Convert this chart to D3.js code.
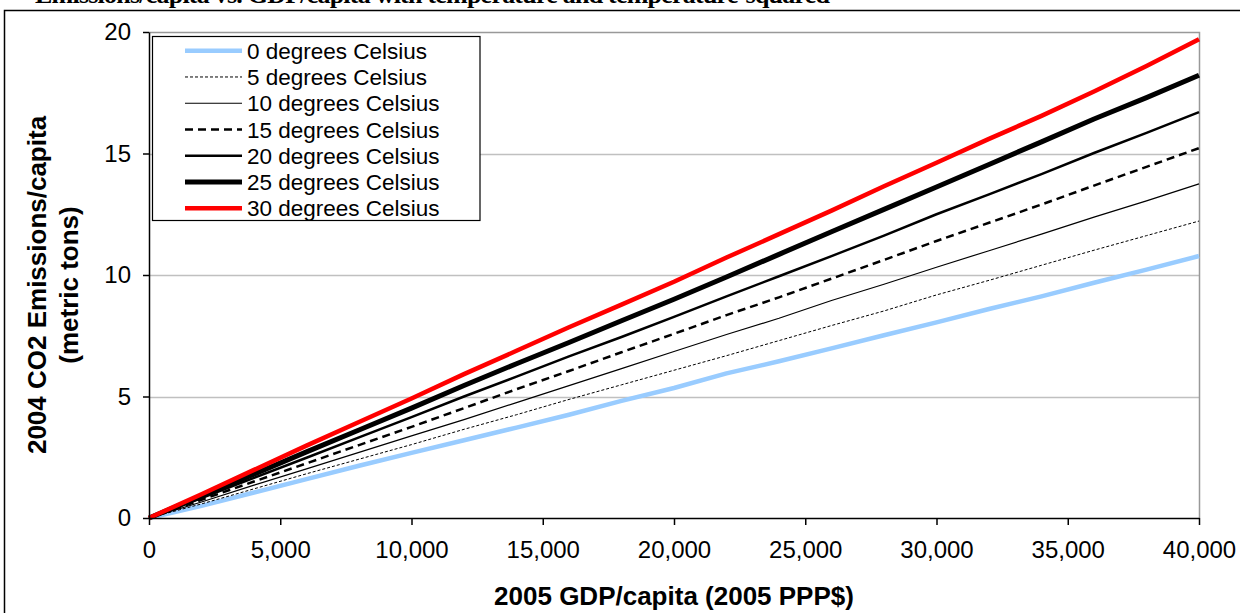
<!DOCTYPE html>
<html>
<head>
<meta charset="utf-8">
<script src="https://cdn.jsdelivr.net/npm/d3@7"></script>
<style>
  body { margin: 0; background: #fff; }
  svg { display: block; font-family: Arial, "Liberation Sans", sans-serif; }
</style>
</head>
<body>
<svg id="chart" width="1240" height="613"></svg>
<script>
// GDP/capita values (2005 PPP$)
const gdp = [0, 2000, 4000, 6000, 8000, 10000, 12000, 14000, 16000, 18000, 20000,
             22000, 24000, 26000, 28000, 30000, 32000, 34000, 36000, 38000, 40000];

// CO2 emissions/capita per temperature
const t0  = [0, 0.50, 1.05, 1.60, 2.15, 2.68, 3.20, 3.72, 4.25, 4.82, 5.35, 5.95, 6.45, 6.98, 7.52, 8.05, 8.60, 9.12, 9.68, 10.22, 10.78];
const t5  = [0, 0.58, 1.20, 1.82, 2.42, 3.02, 3.65, 4.25, 4.88, 5.48, 6.08, 6.68, 7.30, 7.92, 8.52, 9.18, 9.78, 10.40, 11.02, 11.62, 12.22];
const t10 = [0, 0.66, 1.35, 2.02, 2.70, 3.38, 4.05, 4.75, 5.45, 6.15, 6.85, 7.55, 8.22, 8.95, 9.62, 10.32, 11.00, 11.68, 12.38, 13.05, 13.75];
const t15 = [0, 0.75, 1.50, 2.25, 3.00, 3.75, 4.52, 5.30, 6.05, 6.82, 7.58, 8.35, 9.08, 9.85, 10.62, 11.40, 12.15, 12.90, 13.68, 14.45, 15.22];
const t20 = [0, 0.82, 1.65, 2.48, 3.32, 4.15, 5.00, 5.82, 6.65, 7.45, 8.28, 9.12, 9.95, 10.78, 11.62, 12.50, 13.32, 14.15, 15.02, 15.85, 16.70];
const t25 = [0, 0.90, 1.80, 2.72, 3.62, 4.52, 5.45, 6.35, 7.22, 8.12, 9.00, 9.92, 10.85, 11.78, 12.70, 13.62, 14.55, 15.48, 16.42, 17.30, 18.22];
const t30 = [0, 0.98, 1.98, 2.98, 3.95, 4.92, 5.92, 6.88, 7.85, 8.78, 9.72, 10.72, 11.68, 12.65, 13.65, 14.62, 15.60, 16.55, 17.55, 18.60, 19.70];

const seriesNames = ["0 degrees Celsius", "5 degrees Celsius", "10 degrees Celsius", "15 degrees Celsius",
                     "20 degrees Celsius", "25 degrees Celsius", "30 degrees Celsius"];
const xTicks = [0, 5000, 10000, 15000, 20000, 25000, 30000, 35000, 40000];
const yTicks = [0, 5, 10, 15, 20];

// line styles per series
const styles = [
  { color: "#99ccff", width: 4.5, dash: null },
  { color: "#000", width: 1, dash: "3,2" },
  { color: "#000", width: 1.2, dash: null },
  { color: "#000", width: 2.5, dash: "8,5" },
  { color: "#000", width: 2.5, dash: null },
  { color: "#000", width: 5, dash: null },
  { color: "#ff0000", width: 4.5, dash: null }
];

const series = [t0, t5, t10, t15, t20, t25, t30].map((vals, i) => ({
  name: seriesNames[i],
  style: styles[i],
  points: vals.map((v, j) => ({ x: gdp[j], y: v }))
}));

const svg = d3.select("#chart");

const plot = { left: 149, right: 1199, top: 32, bottom: 518 };
const x = d3.scaleLinear().domain([0, 40000]).range([plot.left, plot.right]);
const y = d3.scaleLinear().domain([0, 20]).range([plot.bottom, plot.top]);

// title, cropped at the top edge like in the original
svg.append("text")
  .attr("x", 35).attr("y", 3)
  .attr("textLength", 795).attr("lengthAdjust", "spacing")
  .style("font-family", "'Liberation Serif', 'Times New Roman', serif")
  .style("font-weight", "bold").style("font-size", "26px")
  .text("Emissions/capita vs. GDP/capita with temperature and temperature-squared");

// outer chart border
svg.append("rect")
  .attr("x", 4.5).attr("y", 10.5).attr("width", 1250).attr("height", 620)
  .attr("fill", "none").attr("stroke", "#000").attr("stroke-width", 1.5);

// gridlines
svg.append("g").selectAll("line")
  .data(yTicks.filter(d => d > 0 && d < 20))
  .enter().append("line")
  .attr("x1", plot.left).attr("x2", plot.right)
  .attr("y1", d => Math.round(y(d)) + 0.5).attr("y2", d => Math.round(y(d)) + 0.5)
  .attr("stroke", "#c0c0c0").attr("stroke-width", 1.5);

// plot area border (top and right)
svg.append("path")
  .attr("d", `M${plot.left},${plot.top + 0.5}H${plot.right + 0.5}V${plot.bottom}`)
  .attr("fill", "none").attr("stroke", "#999").attr("stroke-width", 1.5);

// lines
const line = d3.line().x(d => x(d.x)).y(d => y(d.y));
svg.append("g").selectAll("path")
  .data(series)
  .enter().append("path")
  .attr("d", d => line(d.points))
  .attr("fill", "none")
  .attr("stroke", d => d.style.color)
  .attr("stroke-width", d => d.style.width)
  .attr("stroke-dasharray", d => d.style.dash)
  .attr("stroke-linejoin", "round");

// axes
const yAxis = svg.append("g")
  .attr("transform", `translate(${plot.left},0)`)
  .call(d3.axisLeft(y).tickValues(yTicks).tickSize(6).tickSizeOuter(0).tickPadding(12));
const xAxis = svg.append("g")
  .attr("transform", `translate(0,${plot.bottom})`)
  .call(d3.axisBottom(x).tickValues(xTicks).tickSize(7).tickSizeOuter(0).tickPadding(16)
    .tickFormat(d3.format(",")));

[yAxis, xAxis].forEach(a => {
  a.select(".domain").attr("stroke", "#000").attr("stroke-width", 1.5);
  a.selectAll(".tick line").attr("stroke", "#000").attr("stroke-width", 1.5);
  a.selectAll(".tick text").attr("fill", "#000")
    .style("font-size", "24px").style("font-family", "Arial, 'Liberation Sans', sans-serif");
});

// axis titles
svg.append("text")
  .attr("x", 674).attr("y", 605)
  .attr("text-anchor", "middle")
  .style("font-weight", "bold").style("font-size", "26px")
  .text("2005 GDP/capita (2005 PPP$)");

const yTitle = svg.append("text")
  .attr("transform", "translate(0,285) rotate(-90)")
  .attr("text-anchor", "middle")
  .style("font-weight", "bold").style("font-size", "26px");
yTitle.append("tspan").attr("x", 0).attr("y", 46).text("2004 CO2 Emissions/capita");
yTitle.append("tspan").attr("x", 0).attr("y", 78).text("(metric tons)");

// legend
const legend = svg.append("g");
legend.append("rect")
  .attr("x", 152.5).attr("y", 36.5).attr("width", 327.5).attr("height", 184)
  .attr("fill", "#fff").attr("stroke", "#000").attr("stroke-width", 1.2);

const rows = legend.selectAll("g.row")
  .data(series)
  .enter().append("g")
  .attr("class", "row")
  .attr("transform", (d, i) => `translate(0,${50.7 + i * 26.27})`);
rows.append("line")
  .attr("x1", 185).attr("x2", 242)
  .attr("stroke", d => d.style.color)
  .attr("stroke-width", d => d.style.width)
  .attr("stroke-dasharray", d => d.style.dash);
rows.append("text")
  .attr("x", 247).attr("y", 8)
  .style("font-size", "22.5px")
  .text(d => d.name);
</script>
</body>
</html>
